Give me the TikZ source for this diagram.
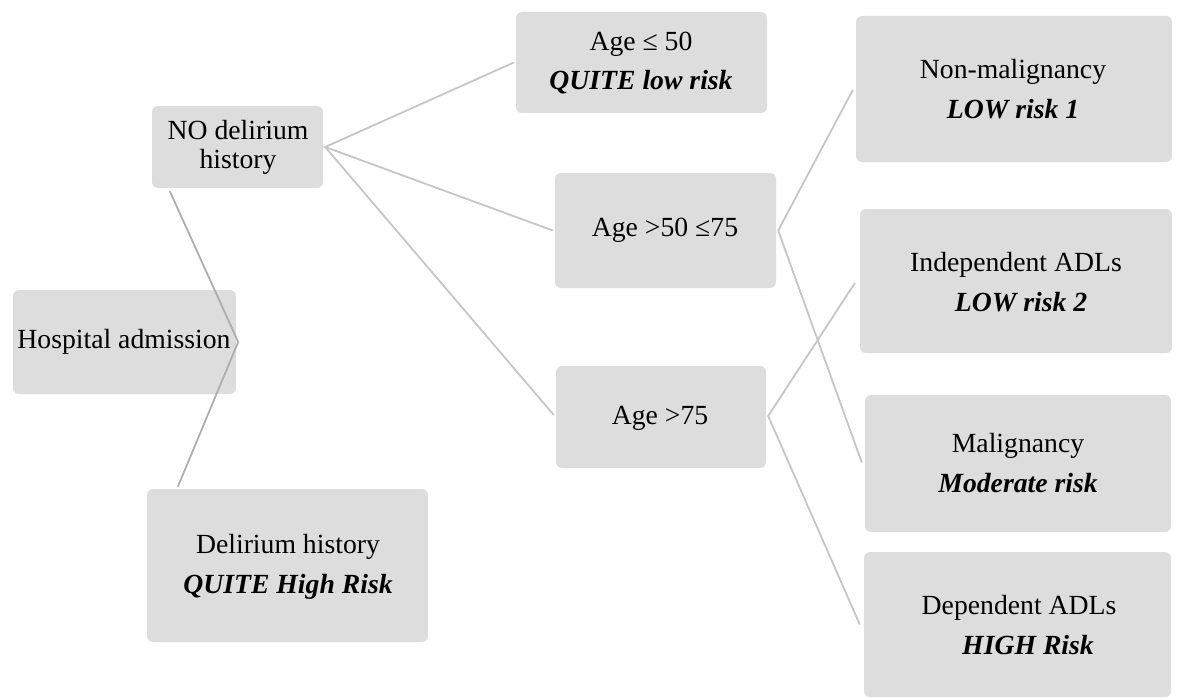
\documentclass[tikz,border=0pt]{standalone}
\usepackage{fontspec}
\setmainfont{Liberation Serif}
\usetikzlibrary{fit,calc}
\definecolor{boxfill}{HTML}{DDDDDD}
\definecolor{linkc}{HTML}{C6C6C6}
\definecolor{linkd}{HTML}{AEAEAE}
\begin{document}
\begin{tikzpicture}[x=1pt,y=-1pt,
  box/.style={fill=boxfill,draw=none,rounded corners=6pt,inner sep=0pt},
  txt/.style={align=center,inner sep=0pt,font=\fontsize{27.7}{39.5}\selectfont},
  txtb/.style={align=center,inner sep=0pt,font=\fontsize{27.7}{29}\selectfont},
  link/.style={draw=linkc,line width=1.8pt},
  linkh/.style={draw=linkd,line width=1.8pt}]
\useasboundingbox (0,0) rectangle (1177,698);
% boxes
\node[box,fit={(13,290) (236,394)}] (ham) {};
\node[box,fit={(152,106) (323,188)}] (no) {};
\node[box,fit={(147,489) (428,642)}] (dh) {};
\node[box,fit={(516,12) (767,113)}] (a50) {};
\node[box,fit={(555,173) (776,288)}] (a5075) {};
\node[box,fit={(556,366) (766,468)}] (a75) {};
\node[box,fit={(856,16) (1172,162)}] (nm) {};
\node[box,fit={(860,209) (1172,353)}] (ind) {};
\node[box,fit={(865,395) (1171,532)}] (mal) {};
\node[box,fit={(864,552) (1171,697)}] (dep) {};
% texts
\node[txt] (hamt) at (124,342) {Hospital admission};
\node[txtb] (not) at (238,147) {NO delirium\\history};
\node[txt] (dht) at (288,567) {Delirium history\\\textbf{\textit{QUITE High Risk}}};
\node[txt] (a50t) at (641,63) {Age ≤ 50\\\textbf{\textit{QUITE low risk}}};
\node[txt] (a5075t) at (665,230) {Age {>}50 ≤75};
\node[txt] (a75t) at (660,418) {Age {>}75};
\node[txt] (nmt) at (1013,89) {Non-malignancy\\\textbf{\textit{LOW risk 1}}};
\node[txt] (indt) at (1016,282) {Independent ADLs\\\hspace*{10pt}\textbf{\textit{LOW risk 2}}};
\node[txt] (malt) at (1018,463) {Malignancy\\\textbf{\textit{Moderate risk}}};
\node[txt] (dept) at (1019,625) {Dependent ADLs\\\hspace*{18pt}\textbf{\textit{HIGH Risk}}};
% connectors
\coordinate (hamv) at ($(ham.east)+(2,0)$);
\draw[linkh] ($(no.south west)+(18,3)$) -- (hamv) -- ($(dh.north west)+(31,-2)$);
\coordinate (nov) at ($(no.east)+(2,0)$);
\draw[link] ($(a50.west)+(-2,0)$) -- (nov) -- ($(a5075.west)+(-2,0)$);
\draw[link] (nov) -- ($(a75.west)+(-2,-2)$);
\coordinate (a5075v) at ($(a5075.east)+(2,0)$);
\draw[link] ($(nm.west)+(-3,1)$) -- (a5075v) -- ($(mal.west)+(-3,-1)$);
\coordinate (a75v) at ($(a75.east)+(2,-1)$);
\draw[link] ($(ind.west)+(-5,2)$) -- (a75v) -- ($(dep.west)+(-4,0)$);
\end{tikzpicture}
\end{document}
